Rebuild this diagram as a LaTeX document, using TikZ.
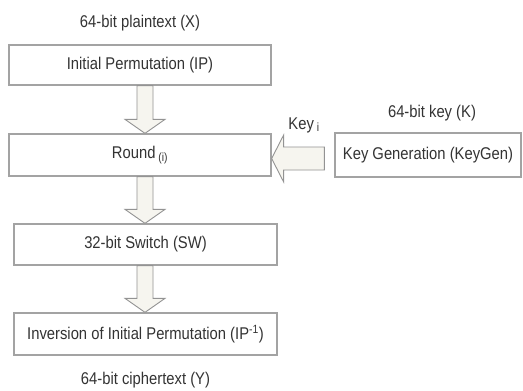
\documentclass[tikz,border=0pt]{standalone}
\usepackage{fontspec}
\setmainfont{Liberation Sans}[FakeStretch=0.87]
\usetikzlibrary{calc}
\definecolor{boxline}{HTML}{A3A3A3}
\definecolor{arrfill}{HTML}{F6F5EF}
\definecolor{txt}{HTML}{333333}
\begin{document}
\begin{tikzpicture}[x=1pt,y=-1pt,
  every node/.style={text=txt,font=\fontsize{17}{20}\selectfont},
  stage/.style={draw=boxline,line width=1.3pt,rectangle,inner sep=0pt,anchor=center},
  blockarrow/.style={draw=boxline!90!black,line width=0.9pt,fill=arrfill,line join=miter}]
\useasboundingbox (0,0) rectangle (523,391);
\fill[white] (0,0) rectangle (523,391);
% boxes
\node[stage,minimum width=262pt,minimum height=40pt] (ip) at (140,65) {Initial Permutation (IP)};
\node[stage,minimum width=262pt,minimum height=42pt] (round) at (140,155) {Round\,\textsubscript{(i)}};
\node[stage,minimum width=263pt,minimum height=41pt] (sw) at (145.5,244.5) {32-bit Switch (SW)};
\node[stage,minimum width=263pt,minimum height=42pt] (inv) at (145.5,334) {Inversion of Initial Permutation (IP\textsuperscript{-1})};
\node[stage,minimum width=186pt,minimum height=44pt] (kg) at (428,155) {Key Generation (KeyGen)};
% labels
\node (pt) at (140,23) {64-bit plaintext (X)};
\node (ct) at (145.5,380) {64-bit ciphertext (Y)};
\node (kk) at (432,113) {64-bit key (K)};
\node (ki) at (304,125) {Key\,\textsubscript{i}};
% down block arrows
\foreach \a/\b in {ip/round,round/sw,sw/inv}{
  \draw[blockarrow] let \p1=(\a.south), \p2=(\b.north) in
    (137,\y1) -- (137,\y2+14pt) -- (125,\y2+14pt) -- (145,\y2) -- (165,\y2+14pt)
    -- (153,\y2+14pt) -- (153,\y1) -- cycle;
}
% left block arrow from key generation to round
\draw[blockarrow] let \p1=(kg.west), \p2=(round.east) in
  (\x1-10pt,147) -- (\x2+12pt,147) -- (\x2+12pt,135) -- (\x2,158.5)
  -- (\x2+12pt,182) -- (\x2+12pt,170) -- (\x1-10pt,170) -- cycle;
\end{tikzpicture}
\end{document}
